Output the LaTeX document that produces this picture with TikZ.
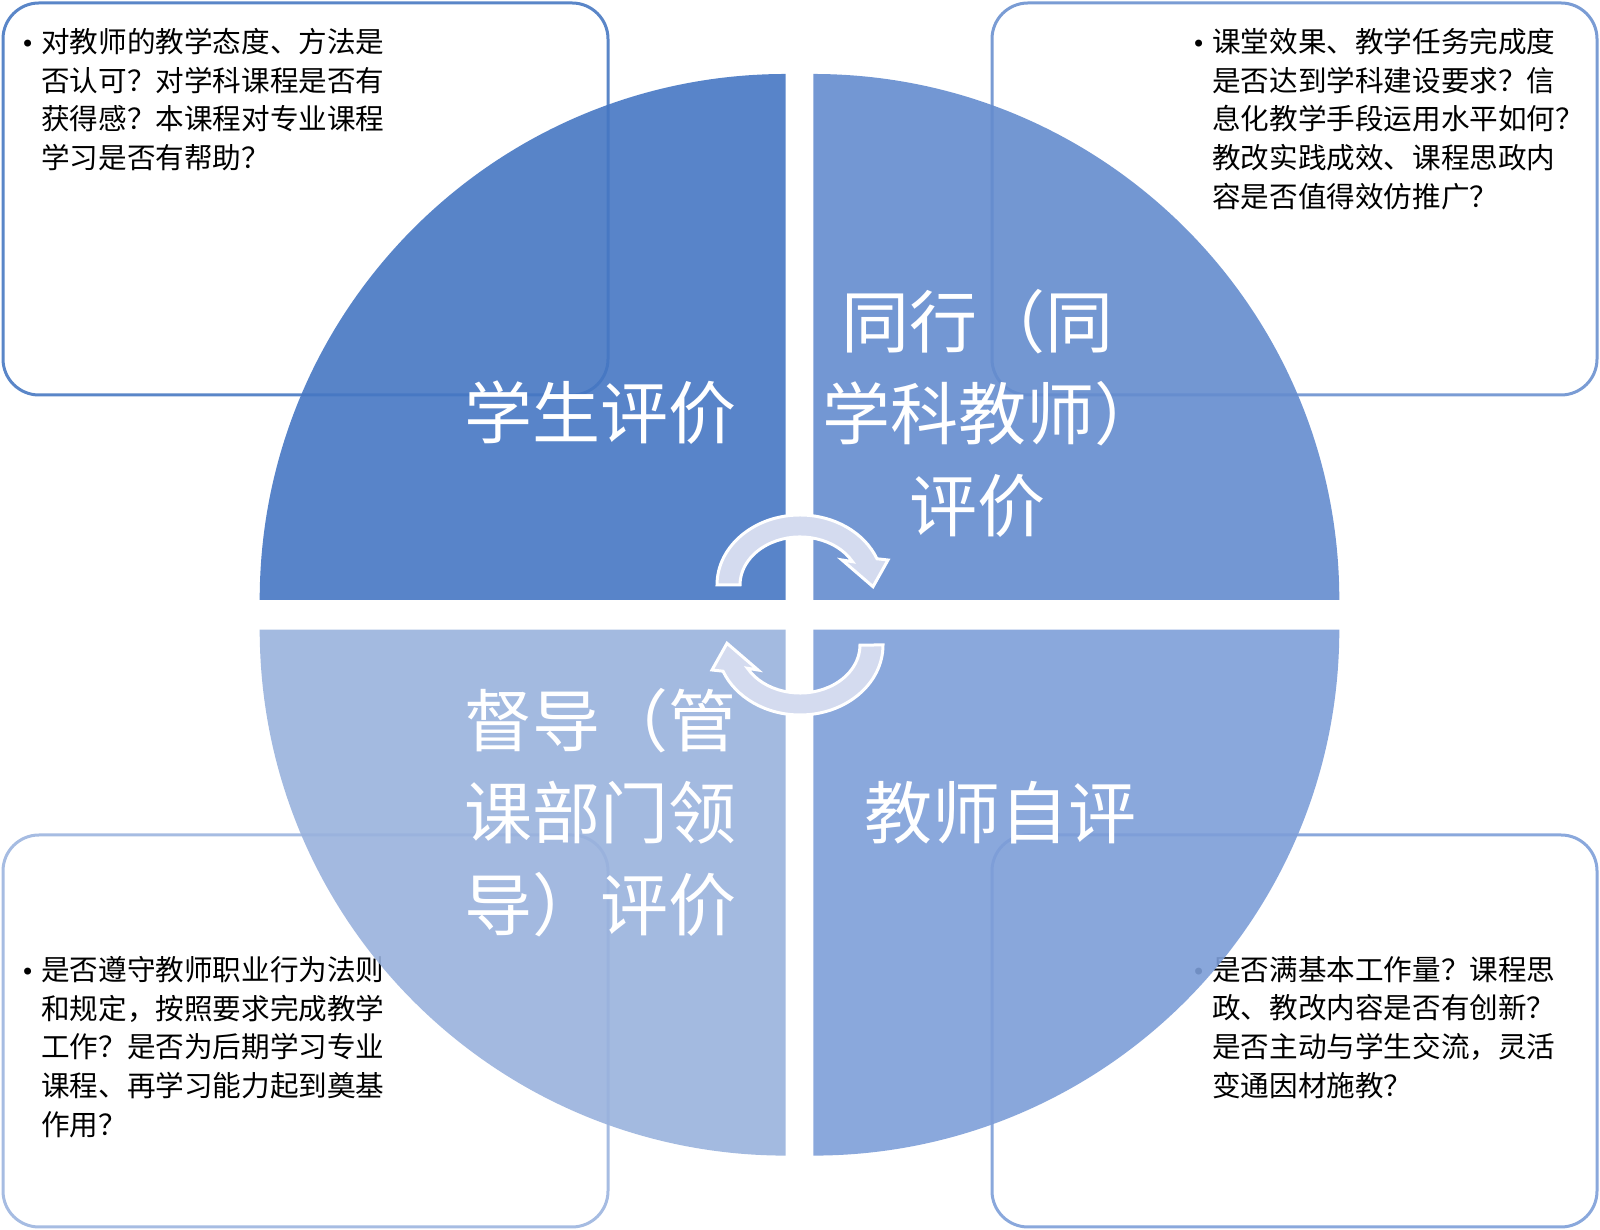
\documentclass[tikz,border=0pt]{standalone}
\usepackage{fontspec}
\newfontfamily\cjk{Noto Sans CJK SC}
\newfontfamily\dejavu{DejaVu Sans}
\definecolor{qTL}{HTML}{4677C3}
\definecolor{qTR}{HTML}{648CCE}
\definecolor{qBL}{HTML}{99B2DD}
\definecolor{qBR}{HTML}{7D9ED8}
\definecolor{bTL}{HTML}{5A86C8}
\definecolor{bTR}{HTML}{7A9CD4}
\definecolor{bBL}{HTML}{A6BCE2}
\definecolor{bBR}{HTML}{8AA8DC}
\definecolor{arrowfill}{HTML}{D4DBEF}
\newcommand{\bulletmark}{\llap{\makebox[27pt]{\dejavu\fontsize{24}{24}\selectfont •}}}
\begin{document}
\begin{tikzpicture}[x=1pt,y=1pt,
  infobox/.style={fill=white, line width=3pt, rounded corners=36pt},
  boxtext/.style={font=\cjk\fontsize{28.6}{38.7}\selectfont, align=left, inner sep=0pt, text=black, anchor=north west},
  quad/.style={opacity=0.9},
  qlabel/.style={font=\cjk\fontsize{68}{92}\selectfont, text=white, inner sep=0pt},
  cyclearrow/.style={fill=arrowfill, draw=white, line width=3pt, line join=miter}
]
\useasboundingbox (0,0) rectangle (1600,1230);
% boxes
\draw[infobox, draw=bTL] (3,835) rectangle (608,1227);
\draw[infobox, draw=bTR] (992,835) rectangle (1597,1227);
\draw[infobox, draw=bBL] (3,3) rectangle (608,395);
\draw[infobox, draw=bBR] (992,3) rectangle (1597,395);
% box texts
\node[boxtext] (tTL) at (41,1202) {\bulletmark 对教师的教学态度、方法是\\否认可？对学科课程是否有\\获得感？本课程对专业课程\\学习是否有帮助？};
\node[boxtext] (tTR) at (1212,1202) {\bulletmark 课堂效果、教学任务完成度\\是否达到学科建设要求？信\\息化教学手段运用水平如何？\\教改实践成效、课程思政内\\容是否值得效仿推广？};
\node[boxtext] (tBL) at (41,274) {\bulletmark 是否遵守教师职业行为法则\\和规定，按照要求完成教学\\工作？是否为后期学习专业\\课程、再学习能力起到奠基\\作用？};
\node[boxtext] (tBR) at (1212,274) {\bulletmark 是否满基本工作量？课程思\\政、教改内容是否有创新？\\是否主动与学生交流，灵活\\变通因材施教？};
% quadrants
\fill[quad, qTL] (785.7,630) -- (259.7,630) arc[start angle=180, end angle=90, radius=526] -- cycle;
\fill[quad, qTR] (813.3,630) -- (813.3,1156) arc[start angle=90, end angle=0, radius=526] -- cycle;
\fill[quad, qBL] (785.7,600.4) -- (785.7,74.4) arc[start angle=270, end angle=180, radius=526] -- cycle;
\fill[quad, qBR] (813.3,600.4) -- (1339.3,600.4) arc[start angle=0, end angle=-90, radius=526] -- cycle;
% cycle arrows
\path[cyclearrow] (717,645) arc[start angle=180, end angle=22, x radius=83, y radius=70] -- (888,670) -- (873,643.3) -- (842,670) -- (852.5,668.3) arc[start angle=29, end angle=180, x radius=60, y radius=48] -- cycle;
\path[cyclearrow, rotate around={180:(800,615)}] (717,645) arc[start angle=180, end angle=22, x radius=83, y radius=70] -- (888,670) -- (873,643.3) -- (842,670) -- (852.5,668.3) arc[start angle=29, end angle=180, x radius=60, y radius=48] -- cycle;
% quadrant labels
\node[qlabel] (lTL) at (600,817) {学生评价};
\node[qlabel, align=center] (lTR) at (977,817) {同行（同\\\hspace*{30pt}学科教师）\\评价};
\node[qlabel, align=left] (lBL) at (600,417) {督导（管\\课部门领\\导）评价};
\node[qlabel] (lBR) at (1000,417) {教师自评};
\end{tikzpicture}
\end{document}
